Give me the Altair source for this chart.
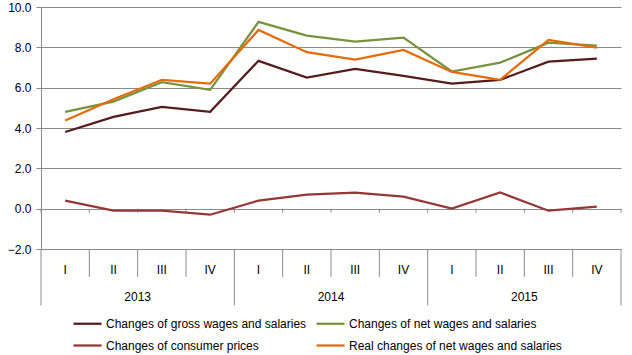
import altair as alt
import pandas as pd

quarters = ["I", "II", "III", "IV"] * 3
years = ["2013", "2014", "2015"]
# order chosen so that the two-column legend reads row by row as in the reference
series_names = [
    "Changes of gross wages and salaries",
    "Changes of consumer prices",
    "Changes of net wages and salaries",
    "Real changes of net wages and salaries",
]
gross = [3.8, 4.55, 5.05, 4.8, 7.33, 6.5, 6.93, 6.58, 6.2, 6.39, 7.29, 7.44]
net = [4.8, 5.31, 6.27, 5.89, 9.26, 8.58, 8.28, 8.48, 6.8, 7.24, 8.23, 8.08]
cpi = [0.4, -0.1, -0.1, -0.3, 0.4, 0.7, 0.8, 0.6, 0.0, 0.8, -0.1, 0.1]
real = [4.37, 5.43, 6.39, 6.2, 8.86, 7.76, 7.39, 7.87, 6.78, 6.39, 8.37, 7.99]
colors = ["#561C1C", "#953735", "#77933C", "#E46C0A"]

FONT = "Liberation Sans"
GRAY = "#8A8A8A"

rows = []
for name, vals in zip(series_names, [gross, cpi, net, real]):
    for i, v in enumerate(vals):
        rows.append({"series": name, "pos": i + 0.5, "value": v})
df = pd.DataFrame(rows)

qdf = pd.DataFrame({"pos": [i + 0.5 for i in range(len(quarters))], "label": quarters})
ydf = pd.DataFrame({"pos": [4 * j + 2 for j in range(len(years))], "label": years})
qsep = pd.DataFrame({"pos": [k for k in range(1, 12) if k % 4 != 0]})
ysep = pd.DataFrame({"pos": [0, 4, 8, 12]})
ticks0 = pd.DataFrame({"pos": list(range(0, 13))})

xs = alt.Scale(domain=[0, 12], nice=False, zero=False)
ys = alt.Scale(domain=[-2, 10], nice=False, zero=False)

X = alt.X("pos:Q", scale=xs, axis=None)

lines = alt.Chart(df).mark_line(strokeWidth=2.25).encode(
    x=X,
    y=alt.Y(
        "value:Q",
        scale=ys,
        title=None,
        axis=alt.Axis(
            values=[-2, 0, 2, 4, 6, 8, 10],
            format=".1f",
            grid=True,
            gridColor=GRAY,
            domainColor=GRAY,
            tickColor=GRAY,
            tickSize=5,
            labelPadding=5,
            labelFont=FONT,
            labelFontSize=12,
            labelColor="#000000",
        ),
    ),
    color=alt.Color(
        "series:N",
        scale=alt.Scale(domain=series_names, range=colors),
        legend=alt.Legend(
            title=None,
            orient="none",
            legendX=31,
            legendY=301,
            columns=2,
            symbolType="stroke",
            symbolSize=784,
            symbolStrokeWidth=2.25,
            labelOffset=3,
            columnPadding=5,
            rowPadding=-5,
            labelLimit=0,
            labelFont=FONT,
            labelFontSize=12,
            labelColor="#000000",
        ),
    ),
)

zero_ticks = alt.Chart(ticks0).mark_rule(color=GRAY, strokeWidth=1).encode(
    x=X, y=alt.datum(0), y2=alt.datum(-0.2)
)
qsep_rules = alt.Chart(qsep).mark_rule(color=GRAY, strokeWidth=1).encode(
    x=X, y=alt.datum(-2), y2=alt.datum(-3.38)
)
ysep_rules = alt.Chart(ysep).mark_rule(color=GRAY, strokeWidth=1).encode(
    x=X, y=alt.datum(-2), y2=alt.datum(-4.8)
)
qtext = alt.Chart(qdf).mark_text(font=FONT, fontSize=12, color="#000000", baseline="middle").encode(
    x=X, y=alt.value(263), text="label:N"
)
ytext = alt.Chart(ydf).mark_text(font=FONT, fontSize=12, color="#000000", baseline="middle").encode(
    x=X, y=alt.value(290), text="label:N"
)

chart = alt.layer(
    zero_ticks, qsep_rules, ysep_rules, qtext, ytext, lines
).properties(
    width=580,
    height=242,
    autosize=alt.AutoSizeParams(type="none"),
    padding={"left": 41, "top": 7, "right": 11, "bottom": 106},
    background="white",
).configure_view(stroke=None)

chart.save("out.html", embed_options={"renderer": "svg", "actions": False})
